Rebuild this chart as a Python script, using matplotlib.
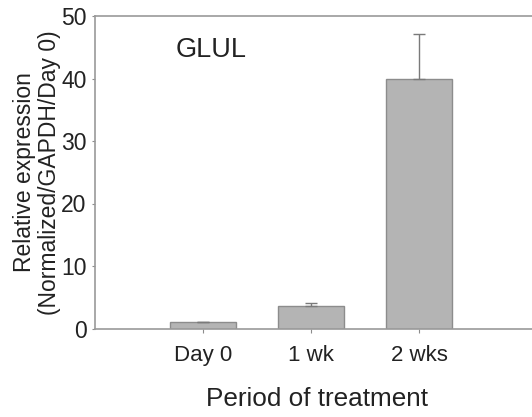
import matplotlib.pyplot as plt

plt.rcParams['font.family'] = ['Liberation Sans', 'DejaVu Sans']

periods = ['Day 0', '1 wk', '2 wks']
expression = [1.0, 3.6, 40.0]
errors = [0.0, 0.5, 7.2]

fig = plt.figure(figsize=(5.32, 4.17), dpi=100)
# axes run off the right edge of the figure, so no right spine shows
ax = fig.add_axes([95/532, 1 - 328.5/417, 443/532, 312.5/417])

x = [1, 2, 3]
ax.bar(x, expression, width=0.61, color='#b4b4b4', edgecolor='#8c8c8c', linewidth=1.0, zorder=2)
ax.errorbar(x, expression, yerr=[[0]*3, errors], fmt='none', ecolor='#7a7a7a',
            elinewidth=1.0, capsize=4, capthick=1.0, zorder=3)

ax.set_xlim(0, 4.1)
ax.set_ylim(0, 50)
ax.set_xticks(x)
ax.set_xticklabels(periods, fontsize=16, color='#222222')
ax.set_yticks([0, 10, 20, 30, 40, 50])
ax.tick_params(axis='y', labelsize=16.5, length=2.5, color='#8c8c8c', labelcolor='#222222', pad=3.5)
ax.tick_params(axis='x', length=3, color='#8c8c8c', pad=9)

for side in ['left', 'bottom', 'top']:
    ax.spines[side].set_color('#9a9a9a')
    ax.spines[side].set_linewidth(1.2)
ax.spines['right'].set_visible(False)

ax.text(0.75, 43.5, 'GLUL', fontsize=19.5, color='#222222')
ax.set_ylabel('Relative expression\n(Normalized/GAPDH/Day 0)', fontsize=16.5,
              color='#222222', linespacing=1.12, labelpad=0)
ax.set_xlabel('Period of treatment', fontsize=18.8, color='#222222', labelpad=15)

fig.savefig('out.png', dpi=100)
